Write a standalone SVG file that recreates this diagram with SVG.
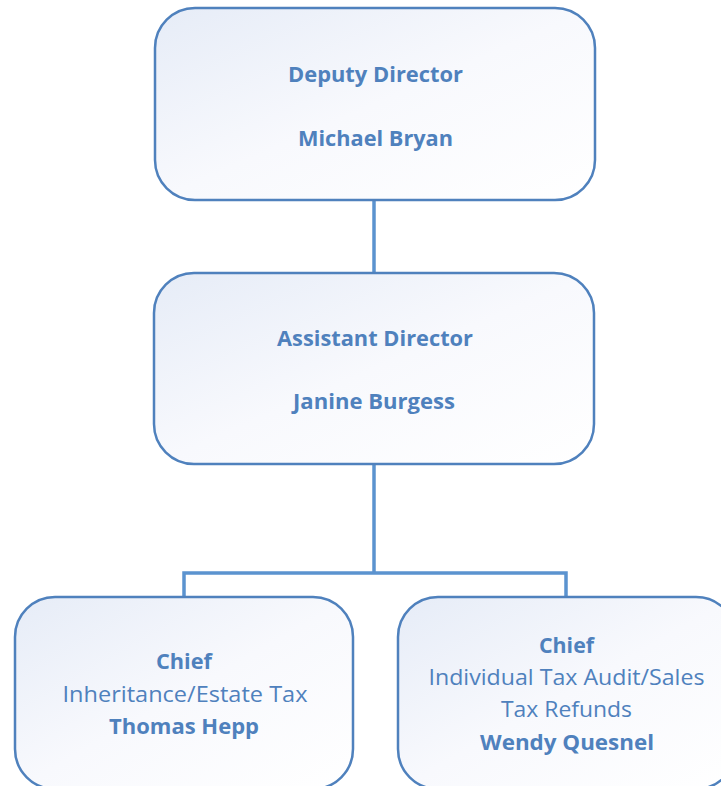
<svg xmlns="http://www.w3.org/2000/svg" width="721" height="786" viewBox="0 0 721 786">
<defs>
<linearGradient id="bg" x1="0" y1="0" x2="1" y2="1">
<stop offset="0" stop-color="#e6ecf7"/>
<stop offset="0.5" stop-color="#f8f9fd"/>
<stop offset="1" stop-color="#ffffff"/>
</linearGradient>
<style>
.box{fill:url(#bg);stroke:#4f81bd;stroke-width:2.5}
.t{font-family:"Open Sans","Liberation Sans",Arial,sans-serif;font-size:21px;fill:#4f81bd;text-anchor:middle}
.b{font-weight:bold}
.con{fill:none;stroke:#5b93cf;stroke-width:3.5}
</style>
</defs>
<rect width="721" height="786" fill="#ffffff"/>
<g id="connectors">
<line class="con" x1="374" y1="200" x2="374" y2="273"/>
<polyline class="con" points="374,464 374,573"/>
<polyline class="con" points="184,597 184,573 566,573 566,597"/>
</g>
<g id="deputy">
<rect class="box" x="155" y="8" width="440" height="192" rx="40"/>
<text class="t b" x="375.5" y="82" textLength="175" lengthAdjust="spacingAndGlyphs">Deputy Director</text>
<text class="t b" x="375.5" y="146" textLength="155" lengthAdjust="spacingAndGlyphs">Michael Bryan</text>
</g>
<g id="assistant">
<rect class="box" x="154" y="273" width="440" height="191" rx="40"/>
<text class="t b" x="375" y="346" textLength="196" lengthAdjust="spacingAndGlyphs">Assistant Director</text>
<text class="t b" x="374" y="409" textLength="162" lengthAdjust="spacingAndGlyphs">Janine Burgess</text>
</g>
<g id="chief-estate">
<rect class="box" x="15" y="597" width="338" height="192" rx="40"/>
<text class="t b" x="184" y="669" textLength="56" lengthAdjust="spacingAndGlyphs">Chief</text>
<text class="t" x="185" y="702" textLength="245" lengthAdjust="spacingAndGlyphs">Inheritance/Estate Tax</text>
<text class="t b" x="184" y="734" textLength="150" lengthAdjust="spacingAndGlyphs">Thomas Hepp</text>
</g>
<g id="chief-audit">
<rect class="box" x="398" y="597" width="338" height="192" rx="40"/>
<text class="t b" x="566.5" y="653" textLength="55" lengthAdjust="spacingAndGlyphs">Chief</text>
<text class="t" x="566.5" y="685" textLength="276" lengthAdjust="spacingAndGlyphs">Individual Tax Audit/Sales</text>
<text class="t" x="566.5" y="717" textLength="131" lengthAdjust="spacingAndGlyphs">Tax Refunds</text>
<text class="t b" x="567" y="750" textLength="174" lengthAdjust="spacingAndGlyphs">Wendy Quesnel</text>
</g>
</svg>
